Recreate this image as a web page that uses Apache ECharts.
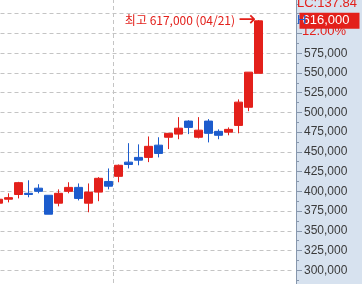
<!DOCTYPE html>
<html><head><meta charset="utf-8">
<script src="https://cdn.jsdelivr.net/npm/echarts@6/dist/echarts.min.js"></script>
<style>html,body{margin:0;padding:0;background:#fff}#c{width:362px;height:284px}</style>
</head><body><div id="c"></div>
<script>
const dates = ['03/16','03/17','03/18','03/19','03/22','03/23','03/24','03/25','03/26','03/29','03/30','03/31',
  '04/01','04/02','04/05','04/06','04/07','04/08','04/09','04/12','04/13','04/14','04/15','04/16','04/19','04/20','04/21'];
const futureSlots = ['', '', ''];
const opens  = [385000,390000,396000,397500,404000,395000,385000,400000,405000,385000,399000,412500,419000,437000,443000,443000,458500,468500,472500,489000,468500,489000,476000,475000,483500,506500,549500];
const closes = [390000,392000,411000,396000,400000,371000,397500,405000,391000,399000,416500,406500,433000,434000,439500,457000,448000,473500,480000,481000,477500,473500,471000,478500,513000,551000,616000];
const lows   = [384000,386000,391000,392500,397500,371000,381000,397500,388500,373500,387500,402500,411500,429000,433000,437000,443000,453500,466000,472500,467000,462000,466000,471000,473500,501500,549500];
const highs  = [391000,397500,412000,414000,409000,395000,402500,411500,410000,410000,418000,429000,434000,461000,459500,469500,468500,473500,494000,490000,494000,491500,478500,481000,516500,551000,617000];
const yLabelMin = 300000, yLabelMax = 575000;
const monthStartIndex = 12;
const infoTop = 'LC:137.84';
const infoPct = '12.00%';

const fmt = v => v.toLocaleString('en-US');
const RED = '#e3201b', BLUE = '#1c5ccd';
const last = dates.length - 1;
const cats = dates.concat(futureSlots);
const kData = dates.map((d,i)=>[opens[i], closes[i], lows[i], highs[i]]);
const gridDash = {color:'#c4c4c4', type:[4,3], width:1};

const chart = echarts.init(document.getElementById('c'), null, {renderer:'canvas'});
chart.setOption({
  animation:false,
  backgroundColor:'#fff',
  grid:{left:-6.5, width:300, top:-6, bottom:-6, containLabel:false, outerBoundsMode:'none'},
  xAxis:[
    {type:'category', data:cats, boundaryGap:true,
     axisLine:{show:false}, axisTick:{show:false}, axisLabel:{show:false}, splitLine:{show:false}},
    {type:'value', min:-0.5, max:cats.length-0.5, show:false,
     axisLine:{show:false, onZero:false}, splitLine:{show:false}}
  ],
  yAxis:{type:'value', position:'right', offset:2.5, min:275000, max:650000, interval:25000,
    axisLine:{show:true, onZero:false, lineStyle:{color:'#8797ad', width:1}},
    axisTick:{show:true, length:6, lineStyle:{color:'#8797ad'}},
    minorTick:{show:true, splitNumber:2, length:3, lineStyle:{color:'#8797ad'}},
    axisLabel:{margin:8, color:'#3a3a3a', fontFamily:'Liberation Sans', fontSize:12,
      formatter:v=> (v>yLabelMax || v<yLabelMin) ? '' : fmt(v)},
    splitLine:{show:true, lineStyle:gridDash}},
  graphic:[
    {type:'rect', z:-10, shape:{x:296, y:0, width:66, height:284}, style:{fill:'#d7e2ef'}},
    {type:'text', z:100, left:297, top:-3, style:{text:infoTop, fill:RED, font:'13px "Liberation Sans"'}},
    {type:'text', z:100, left:297, top:14, style:{text:'H', fill:BLUE, font:'13px "Liberation Sans"'}},
    {type:'text', z:100, left:302, top:25, style:{text:infoPct, fill:RED, font:'13px "Liberation Sans"'}}
  ],
  series:[{
    type:'candlestick', data:kData, barWidth:9, z:5,
    itemStyle:{color:RED, color0:BLUE, borderColor:RED, borderColor0:BLUE, borderWidth:1},
    markPoint:{symbol:'rect', symbolSize:1, itemStyle:{color:'rgba(0,0,0,0)'},
      data:[{coord:[dates[last], highs[last]],
        label:{show:true, position:'left', distance:2, color:RED,
          formatter:'{t|최고 ' + fmt(Math.max(...highs)) + ' (' + dates[last] + ')} {a|→}',
          rich:{t:{fontSize:12, fontFamily:'"Noto Sans CJK KR"', color:RED},
                a:{fontSize:21, fontFamily:'"DejaVu Sans"', color:RED}}}}]},
    markLine:{silent:true, symbol:'none', lineStyle:{width:0, color:'transparent'},
      data:[{yAxis:closes[last],
        label:{show:true, position:'end', distance:6, formatter:fmt(closes[last]),
          color:'#fff', backgroundColor:RED, fontFamily:'Liberation Sans', fontSize:13,
          padding:[2,10,1,3]}}]}
  },{
    type:'line', xAxisIndex:1, data:[], silent:true,
    markLine:{silent:true, symbol:'none', label:{show:false}, lineStyle:gridDash,
      data:[{xAxis:monthStartIndex-0.5}]}
  }]
});
</script></body></html>
